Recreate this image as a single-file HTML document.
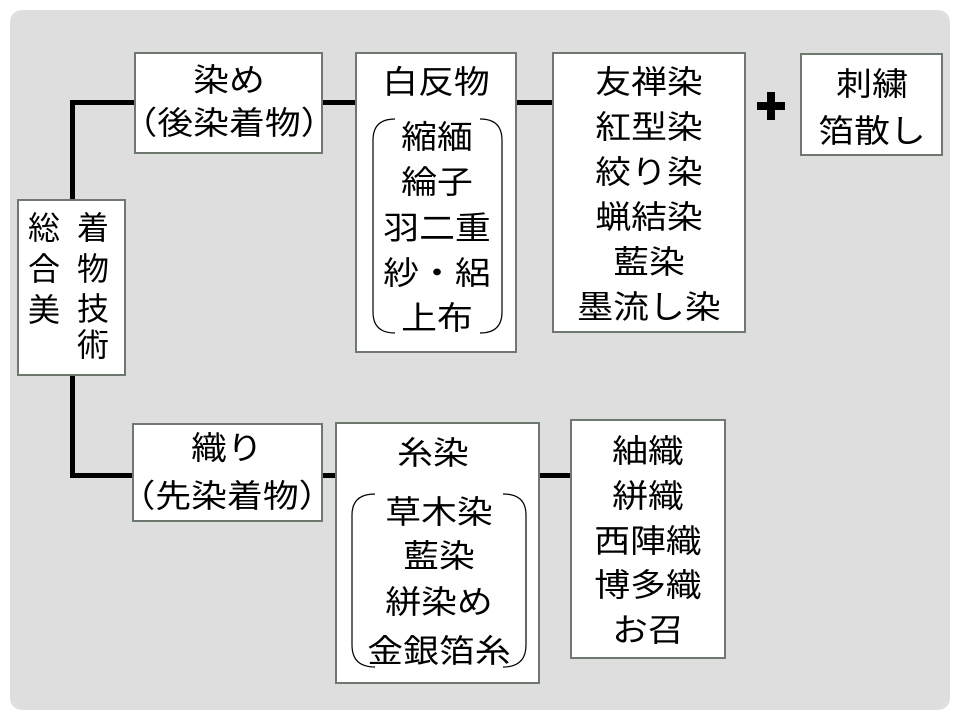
<!DOCTYPE html>
<html><head><meta charset="utf-8">
<style>
html,body{margin:0;padding:0;background:#fff;}
#c{position:relative;width:960px;height:720px;overflow:hidden;font-family:"Liberation Sans","Noto Sans CJK JP",sans-serif;color:#000;}
.bg{position:absolute;left:10px;top:10px;width:940px;height:700px;background:#dedede;border-radius:12px;}
.box{position:absolute;background:#fff;border:2px solid #6e786e;box-sizing:border-box;}
.t{position:absolute;font-size:32px;line-height:32px;white-space:nowrap;transform:translate(-50%,-50%) scaleX(1.12);}
.v{position:absolute;font-size:32px;line-height:32px;white-space:nowrap;transform:translate(-50%,-50%);}
.ln{position:absolute;background:#000;}
</style></head><body>
<div id="c">
<div class="bg"></div>

<div class="ln" style="left:70px;top:100px;width:5px;height:102px"></div>
<div class="ln" style="left:70px;top:100px;width:66px;height:5px"></div>
<div class="ln" style="left:70px;top:374px;width:5px;height:104px"></div>
<div class="ln" style="left:70px;top:473px;width:64px;height:5px"></div>
<div class="ln" style="left:321px;top:100px;width:36px;height:5px"></div>
<div class="ln" style="left:515px;top:100px;width:38px;height:5px"></div>
<div class="ln" style="left:321px;top:473px;width:16px;height:5px"></div>
<div class="ln" style="left:538px;top:473px;width:34px;height:5px"></div>
<div class="ln" style="left:757px;top:102px;width:28px;height:8px"></div>
<div class="ln" style="left:767px;top:92px;width:8px;height:28px"></div>

<div class="box" style="left:134px;top:52px;width:189px;height:102px"></div>
<div class="box" style="left:17px;top:199px;width:109px;height:177px"></div>
<div class="box" style="left:355px;top:52px;width:162px;height:301px"></div>
<div class="box" style="left:552px;top:52px;width:194px;height:281px"></div>
<div class="box" style="left:800px;top:53px;width:143px;height:103px"></div>
<div class="box" style="left:132px;top:423px;width:191px;height:99px"></div>
<div class="box" style="left:335px;top:422px;width:205px;height:262px"></div>
<div class="box" style="left:570px;top:419px;width:156px;height:240px"></div>

<svg style="position:absolute;left:0;top:0" width="960" height="720">
<g fill="none" stroke="#000" stroke-width="1.2">
<path d="M395 119 Q373 119 373 140 L373 312 Q373 333 395 333"/>
<path d="M480 119 Q502 119 502 140 L502 312 Q502 333 480 333"/>
<path d="M375 494 Q352 494 352 515 L352 645 Q352 667 375 667"/>
<path d="M503 494 Q526 494 526 515 L526 645 Q526 667 503 667"/>
</g>
</svg>

<div class="t" style="left:229px;top:80px">染め</div>
<div class="t" style="left:229px;top:123px">（後染着物）</div>

<div class="v" style="left:44px;top:228px">総</div>
<div class="v" style="left:44px;top:269px">合</div>
<div class="v" style="left:44px;top:310px">美</div>
<div class="v" style="left:93px;top:228px">着</div>
<div class="v" style="left:93px;top:269px">物</div>
<div class="v" style="left:93px;top:309px">技</div>
<div class="v" style="left:93px;top:345px">術</div>

<div class="t" style="left:436px;top:82px">白反物</div>
<div class="t" style="left:437px;top:137px">縮緬</div>
<div class="t" style="left:437px;top:182px">綸子</div>
<div class="t" style="left:437px;top:228px">羽二重</div>
<div class="t" style="left:437px;top:273px">紗・絽</div>
<div class="t" style="left:437px;top:318px">上布</div>

<div class="t" style="left:649px;top:82px">友禅染</div>
<div class="t" style="left:649px;top:127px">紅型染</div>
<div class="t" style="left:649px;top:172px">絞り染</div>
<div class="t" style="left:649px;top:217px">蝋結染</div>
<div class="t" style="left:649px;top:262px">藍染</div>
<div class="t" style="left:649px;top:307px">墨流し染</div>

<div class="t" style="left:872px;top:84px">刺繍</div>
<div class="t" style="left:872px;top:131px">箔散し</div>

<div class="t" style="left:227px;top:448px">織り</div>
<div class="t" style="left:227px;top:496px">（先染着物）</div>

<div class="t" style="left:433px;top:453px">糸染</div>
<div class="t" style="left:439px;top:512px">草木染</div>
<div class="t" style="left:439px;top:556px">藍染</div>
<div class="t" style="left:439px;top:602px">絣染め</div>
<div class="t" style="left:439px;top:651px">金銀箔糸</div>

<div class="t" style="left:648px;top:451px">紬織</div>
<div class="t" style="left:648px;top:496px">絣織</div>
<div class="t" style="left:648px;top:541px">西陣織</div>
<div class="t" style="left:648px;top:585px">博多織</div>
<div class="t" style="left:648px;top:630px">お召</div>
</div>
</body></html>
